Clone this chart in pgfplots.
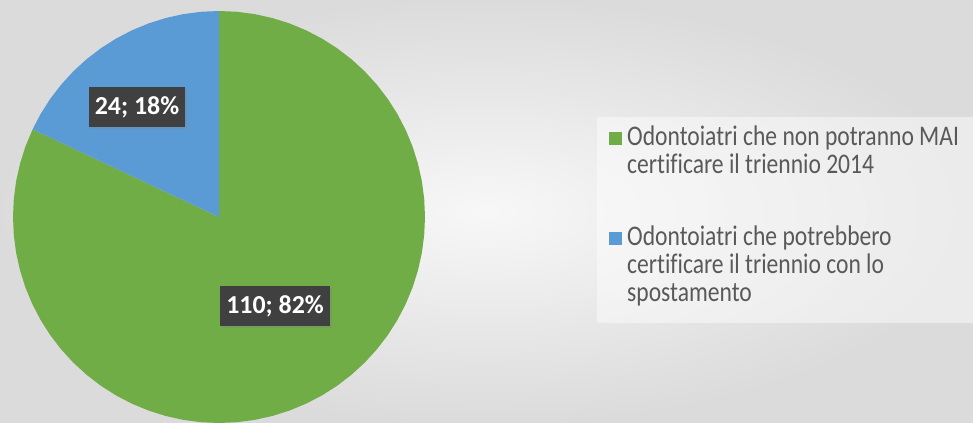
\documentclass[border=0pt]{standalone}
\usepackage{pgfplots}
\pgfplotsset{compat=1.18}
\usepackage{fontspec}
\setmainfont{Carlito}
\newfontfamily\legfont[FakeStretch=0.83, Ligatures=NoCommon]{Carlito}
\newcommand\legsize{\legfont\fontsize{28.5}{28}\selectfont\lineskiplimit=-10pt\relax}
\usetikzlibrary{shadows}
\definecolor{pgreen}{HTML}{70AD47}
\definecolor{pblue}{HTML}{5B9BD5}
\definecolor{lblbox}{HTML}{404040}
\definecolor{legtext}{HTML}{595959}
\tikzset{lbl/.style={fill=lblbox, text=white, font=\fontsize{26}{30}\selectfont\bfseries,
   inner xsep=6bp, minimum height=40bp,
   drop shadow={opacity=0.3, shadow xshift=2bp, shadow yshift=-2bp}}}
\begin{document}
\begin{tikzpicture}
\useasboundingbox (0,0) rectangle (973bp,423bp);
\clip (0,0) rectangle (973bp,423bp);
\shade[inner color=white!97!black, outer color=white!86!black] (0,0) rectangle (973bp,423bp);
\fill[white, opacity=0.45] (597bp,100bp) rectangle (973bp,306bp);
\begin{axis}[
 at={(13bp,0bp)}, anchor=south west,
 scale only axis, width=412bp, height=412bp,
 xmin=-1, xmax=1, ymin=-1, ymax=1,
 hide axis, clip=false,
 legend style={at={(1.4466,0.7209)}, anchor=north west, draw=none, fill=none,
   inner sep=0pt, row sep=50.5bp, column sep=5bp,
   font=\legsize, text=legtext,
   nodes={inner sep=0pt, align=left}},
 legend cell align=left,
]
\addplot[data cs=polar, fill=pgreen, draw=none,
  legend image code/.code={\fill[pgreen] (0bp,6bp) rectangle (13bp,19bp);}] coordinates {
 (0,0) (154.8,1) (160,1) (165,1) (170,1) (175,1) (180,1) (185,1) (190,1) (195,1)
 (200,1) (205,1) (210,1) (215,1) (220,1) (225,1) (230,1) (235,1) (240,1) (245,1)
 (250,1) (255,1) (260,1) (265,1) (270,1) (275,1) (280,1) (285,1) (290,1) (295,1)
 (300,1) (305,1) (310,1) (315,1) (320,1) (325,1) (330,1) (335,1) (340,1) (345,1)
 (350,1) (355,1) (360,1) (365,1) (370,1) (375,1) (380,1) (385,1) (390,1) (395,1)
 (400,1) (405,1) (410,1) (415,1) (420,1) (425,1) (430,1) (435,1) (440,1) (445,1)
 (450,1) (0,0)};
\addlegendentry{Odontoiatri che non potranno MAI\\certificare il triennio 2014}
\addplot[data cs=polar, fill=pblue, draw=none,
  legend image code/.code={\fill[pblue] (0bp,19bp) rectangle (13bp,32bp);}] coordinates {
 (0,0) (90,1) (95,1) (100,1) (105,1) (110,1) (115,1) (120,1) (125,1) (130,1)
 (135,1) (140,1) (145,1) (150,1) (154.8,1) (0,0)};
\addlegendentry{Odontoiatri che potrebbero\\certificare il triennio con lo\\spostamento}
\node[lbl] at (axis cs:-0.398,0.534) {24; 18\%};
\node[lbl] at (axis cs:0.272,-0.432) {110; 82\%};
\end{axis}
\end{tikzpicture}
\end{document}
